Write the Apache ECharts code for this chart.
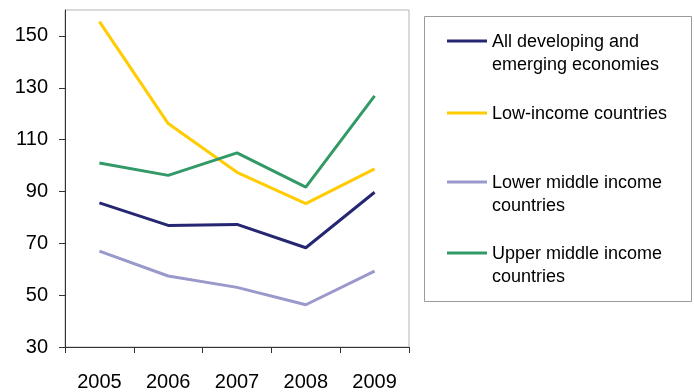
<!DOCTYPE html>
<html>
<head>
<meta charset="utf-8">
<script src="https://cdn.jsdelivr.net/npm/echarts@6/dist/echarts.min.js"></script>
<style>
html,body{margin:0;padding:0;background:#fff;}
#chart{width:694px;height:392px;}
</style>
</head>
<body>
<div id="chart"></div>
<script>
var categories = ['2005', '2006', '2007', '2008', '2009'];
var allDeveloping = [85.6, 76.9, 77.3, 68.3, 89.7];
var lowIncome = [155.5, 116.2, 97.4, 85.3, 98.7];
var lowerMiddle = [67.0, 57.4, 53.0, 46.3, 59.3];
var upperMiddle = [101.0, 96.2, 104.9, 91.7, 126.9];
var yTicks = [30, 50, 70, 90, 110, 130, 150];
var seriesNames = ['All developing and\nemerging economies', 'Low-income countries', 'Lower middle income\ncountries', 'Upper middle income\ncountries'];
var seriesColors = ['#262673', '#ffcc00', '#9999cc', '#339966'];
var seriesData = [allDeveloping, lowIncome, lowerMiddle, upperMiddle];

var legendRows = [41, 113, 182, 253];
var FONT = 'Liberation Sans, Arial, sans-serif';

var chart = echarts.init(document.getElementById('chart'), null, {renderer: 'canvas'});

var series = seriesData.map(function (d, i) {
  return {
    name: seriesNames[i],
    type: 'line',
    data: d,
    symbol: 'none',
    lineStyle: {color: seriesColors[i], width: 3},
    itemStyle: {color: seriesColors[i]},
    z: 3
  };
});

var graphics = [{
  type: 'rect',
  shape: {x: 424.5, y: 16.5, width: 267, height: 285},
  style: {fill: '#fff', stroke: '#9a9a9a', lineWidth: 1}
}];
seriesNames.forEach(function (n, i) {
  graphics.push({
    type: 'line',
    shape: {x1: 447, y1: legendRows[i], x2: 487, y2: legendRows[i]},
    style: {stroke: seriesColors[i], lineWidth: 3}
  });
  graphics.push({
    type: 'text',
    x: 492,
    y: legendRows[i] - 10.5,
    style: {
      text: n,
      fill: '#000',
      font: '18px ' + FONT,
      lineHeight: 23,
      verticalAlign: 'top',
      align: 'left'
    }
  });
});

chart.setOption({
  animation: false,
  backgroundColor: '#fff',
  grid: {
    left: 65, top: 10, right: 285, bottom: 45,
    show: true, borderColor: '#b3b3b3', borderWidth: 1, backgroundColor: 'transparent'
  },
  xAxis: {
    type: 'category',
    data: categories,
    boundaryGap: true,
    axisLine: {lineStyle: {color: '#333', width: 1}},
    axisTick: {show: true, interval: 0, length: 6, lineStyle: {color: '#333'}},
    axisLabel: {fontSize: 20, color: '#000', fontFamily: FONT, margin: 25, interval: 0},
    splitLine: {show: false}
  },
  yAxis: {
    type: 'value',
    min: 30,
    max: 160,
    axisLine: {show: true, lineStyle: {color: '#333', width: 1}},
    axisTick: {show: true, length: 6, lineStyle: {color: '#333'}, customValues: yTicks},
    axisLabel: {fontSize: 20, color: '#000', fontFamily: FONT, margin: 17, customValues: yTicks},
    splitLine: {show: false}
  },
  series: series,
  graphic: graphics
});
</script>
</body>
</html>
